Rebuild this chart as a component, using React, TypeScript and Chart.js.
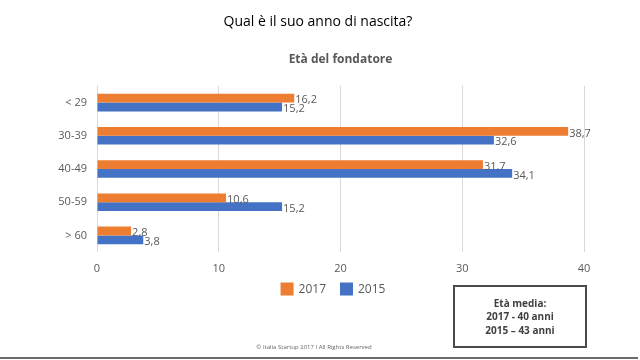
import React, { useEffect, useRef } from "react";
import { Chart, registerables } from "chart.js";

Chart.register(...registerables);

const categories = ["< 29", "30-39", "40-49", "50-59", "> 60"];
const values2017 = [16.2, 38.7, 31.7, 10.6, 2.8];
const values2015 = [15.2, 32.6, 34.1, 15.2, 3.8];
const seriesLabels = ["2017", "2015"];
const seriesColors = ["#ED7D31", "#4472C4"];
const titleText = "Qual è il suo anno di nascita?";
const subtitleText = "Età del fondatore";
const boxLines = ["Età media:", "2017 - 40 anni", "2015 – 43 anni"];
const footerText = "© Italia Startup 2017 I All Rights Reserved";

const FONT = "'Open Sans', 'DejaVu Sans', sans-serif";

const decorPlugin = {
  id: "decor",
  afterDatasetsDraw(chart: any) {
    const ctx = chart.ctx;
    ctx.save();
    ctx.font = `11px ${FONT}`;
    ctx.fillStyle = "#595959";
    ctx.textAlign = "left";
    ctx.textBaseline = "middle";
    chart.data.datasets.forEach((ds: any, di: number) => {
      const meta = chart.getDatasetMeta(di);
      meta.data.forEach((bar: any, i: number) => {
        const v = ds.data[i];
        ctx.fillText(String(v).replace(".", ","), bar.x + 1, bar.y + 2);
      });
    });
    ctx.restore();
  },
  afterDraw(chart: any) {
    const ctx = chart.ctx;
    const area = chart.chartArea;
    ctx.save();
    ctx.fillStyle = "#000";
    ctx.textAlign = "center";
    ctx.textBaseline = "middle";
    ctx.font = `14px ${FONT}`;
    ctx.fillText(titleText, 318, 22);
    ctx.fillStyle = "#595959";
    ctx.font = `bold 12px ${FONT}`;
    ctx.fillText(subtitleText, (area.left + area.right) / 2, 60);

    const ly = 289;
    ctx.font = `12px ${FONT}`;
    ctx.textAlign = "left";
    const sq = 13;
    const gap = 5;
    const itemGap = 14;
    const widths = seriesLabels.map((l) => sq + gap + ctx.measureText(l).width);
    const total = widths.reduce((a, b) => a + b, 0) + itemGap * (widths.length - 1);
    let x = 333 - total / 2;
    seriesLabels.forEach((l, i) => {
      ctx.fillStyle = seriesColors[i];
      ctx.fillRect(x, ly - sq / 2, sq, sq);
      ctx.fillStyle = "#595959";
      ctx.fillText(l, x + sq + gap, ly + 1);
      x += widths[i] + itemGap;
    });

    ctx.strokeStyle = "#4a4a4a";
    ctx.lineWidth = 2;
    ctx.strokeRect(454, 286, 132, 61);
    ctx.fillStyle = "#404040";
    ctx.textAlign = "center";
    ctx.font = `bold 10px ${FONT}`;
    boxLines.forEach((t, i) => {
      ctx.fillText(t, 520, 304 + i * 13.5);
    });

    ctx.fillStyle = "#666";
    ctx.font = `6px ${FONT}`;
    ctx.fillText(footerText, 314, 347);

    ctx.strokeStyle = "#6b6b6b";
    ctx.lineWidth = 2;
    ctx.beginPath();
    ctx.moveTo(0, 358);
    ctx.lineTo(638, 358);
    ctx.stroke();
    ctx.restore();
  },
};

export default function App() {
  const ref = useRef<HTMLCanvasElement | null>(null);
  useEffect(() => {
    if (!ref.current) return;
    const chart = new Chart(ref.current, {
      type: "bar",
      data: {
        labels: categories,
        datasets: [
          {
            label: seriesLabels[0],
            data: values2017,
            backgroundColor: seriesColors[0],
            borderWidth: 0,
            categoryPercentage: 0.53,
            barPercentage: 1,
          },
          {
            label: seriesLabels[1],
            data: values2015,
            backgroundColor: seriesColors[1],
            borderWidth: 0,
            categoryPercentage: 0.53,
            barPercentage: 1,
          },
        ],
      },
      options: {
        indexAxis: "y",
        animation: false,
        responsive: false,
        layout: { padding: { left: 0, right: 56, top: 86, bottom: 78 } },
        plugins: {
          legend: { display: false },
          tooltip: { enabled: false },
          title: { display: false },
        },
        scales: {
          x: {
            min: 0,
            max: 40,
            ticks: {
              stepSize: 10,
              color: "#595959",
              font: { size: 11, family: FONT },
              padding: 10,
            },
            grid: { color: "#d9d9d9", lineWidth: 1, drawTicks: false },
            border: { display: false },
            afterFit: (s: any) => {
              s.height = 30;
            },
          },
          y: {
            ticks: {
              color: "#595959",
              font: { size: 11, family: FONT },
              padding: 10,
            },
            grid: { display: false, drawTicks: false },
            border: { display: false },
            afterFit: (s: any) => {
              s.width = 97;
            },
          },
        },
      },
      plugins: [decorPlugin],
    });
    return () => chart.destroy();
  }, []);
  return (
    <div style={{ position: "fixed", left: 0, top: 0, width: 640, height: 360, background: "#fff" }}>
      <canvas ref={ref} width={640} height={360} style={{ width: 640, height: 360, display: "block" }} />
    </div>
  );
}
